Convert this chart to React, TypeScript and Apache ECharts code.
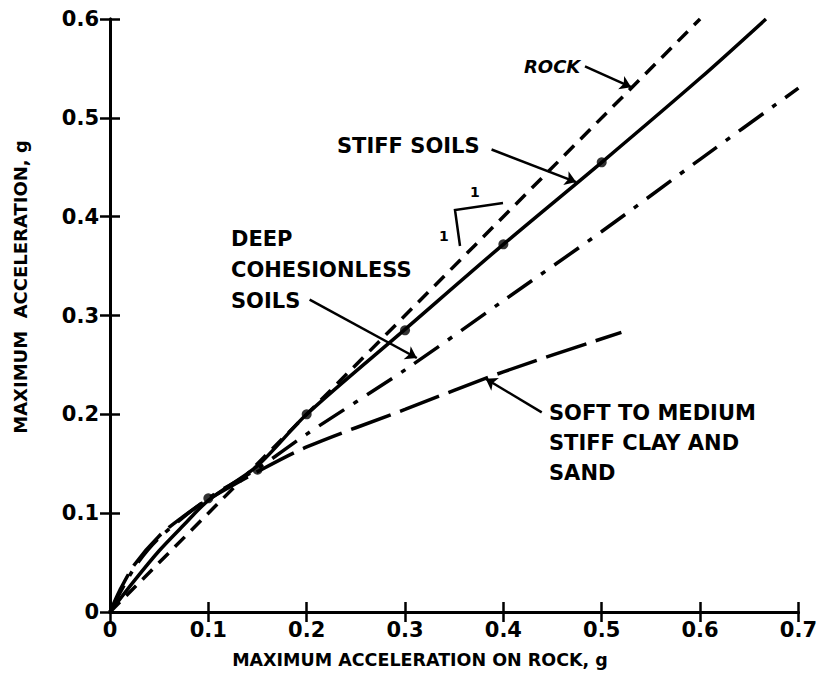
import React, { useEffect, useRef } from "react";
import * as echarts from "echarts";

const xTicks = [0, 0.1, 0.2, 0.3, 0.4, 0.5, 0.6, 0.7];
const yTicks = [0, 0.1, 0.2, 0.3, 0.4, 0.5, 0.6];

const rockX = [0, 0.6];
const rockY = [0, 0.6];

const stiffX = [0, 0.025, 0.05, 0.075, 0.1, 0.15, 0.2, 0.3, 0.4, 0.5, 0.6, 0.667];
const stiffY = [0, 0.032, 0.062, 0.088, 0.113, 0.148, 0.2, 0.286, 0.372, 0.455, 0.54, 0.6];

const stiffDotX = [0.1, 0.15, 0.2, 0.3, 0.4, 0.5];
const stiffDotY = [0.115, 0.144, 0.2, 0.285, 0.372, 0.455];

const deepX = [0, 0.025, 0.05, 0.1, 0.15, 0.2, 0.3, 0.4, 0.5, 0.6, 0.7];
const deepY = [0, 0.045, 0.075, 0.115, 0.145, 0.18, 0.245, 0.315, 0.385, 0.458, 0.53];

const softX = [0, 0.01, 0.025, 0.05, 0.075, 0.1, 0.15, 0.2, 0.3, 0.4, 0.52];
const softY = [0, 0.022, 0.048, 0.077, 0.097, 0.114, 0.142, 0.167, 0.205, 0.243, 0.283];

const FONT = "'DejaVu Sans', 'Liberation Sans', sans-serif";

const zip = (xs: number[], ys: number[]) => xs.map((x, i) => [x, ys[i]]);
const fmt = (v: number) => (v === 0 ? "0" : v.toFixed(1));

export default function App() {
  const ref = useRef<HTMLDivElement>(null);
  useEffect(() => {
    document.body.style.margin = "0";
    if (!ref.current) return;
    const chart = echarts.init(ref.current, null, { renderer: "svg" });
    const axisCommon = {
      type: "value" as const,
      interval: 0.1,
      axisLine: { show: true, lineStyle: { color: "#000", width: 3 } },
      axisTick: { show: true, inside: true, length: 10, lineStyle: { color: "#000", width: 2.5 } },
      splitLine: { show: false },
    };
    const labelStyle = { color: "#000", fontFamily: FONT, fontWeight: "bold" as const, fontSize: 21 };
    const arrow = (from: number[], to: number[]) => [
      { coord: from, symbol: "none" },
      { coord: to, symbol: "arrow" },
    ];
    chart.setOption({
      animation: false,
      backgroundColor: "#fff",
      grid: { left: 110, top: 19, right: 20, bottom: 70, containLabel: false },
      xAxis: [
        {
          ...axisCommon,
          min: xTicks[0],
          max: xTicks[xTicks.length - 1],
          position: "bottom",
          axisLabel: { ...labelStyle, margin: 7, formatter: fmt },
        },
        {
          ...axisCommon,
          min: xTicks[0],
          max: xTicks[xTicks.length - 1],
          position: "top",
          axisLabel: { show: false },
        },
      ],
      yAxis: [
        {
          ...axisCommon,
          min: yTicks[0],
          max: yTicks[yTicks.length - 1],
          position: "left",
          axisLabel: { ...labelStyle, margin: 11, formatter: fmt },
        },
        {
          ...axisCommon,
          min: yTicks[0],
          max: yTicks[yTicks.length - 1],
          position: "right",
          axisLabel: { show: false },
        },
      ],
      series: [
        {
          name: "Rock",
          type: "line",
          data: zip(rockX, rockY),
          showSymbol: false,
          lineStyle: { color: "#000", width: 3.5, type: [14, 9] },
          markLine: {
            silent: true,
            symbolSize: 11,
            lineStyle: { color: "#000", width: 2.5, type: "solid" },
            label: { show: false },
            data: [
              arrow([0.483, 0.552], [0.53, 0.531]),
              arrow([0.388, 0.468], [0.474, 0.435]),
              arrow([0.203, 0.316], [0.312, 0.257]),
              arrow([0.439, 0.202], [0.382, 0.236]),
            ],
          },
        },
        {
          name: "Stiff soils",
          type: "line",
          data: zip(stiffX, stiffY),
          smooth: 0.3,
          showSymbol: false,
          lineStyle: { color: "#000", width: 3.5 },
        },
        {
          name: "Stiff soils data",
          type: "scatter",
          data: zip(stiffDotX, stiffDotY),
          symbolSize: 10,
          itemStyle: { color: "#000" },
        },
        {
          name: "Deep cohesionless soils",
          type: "line",
          data: zip(deepX, deepY),
          smooth: 0.3,
          showSymbol: false,
          lineStyle: { color: "#000", width: 3.5, type: [30, 11, 5, 11] },
        },
        {
          name: "Soft to medium stiff clay and sand",
          type: "line",
          data: zip(softX, softY),
          smooth: 0.3,
          showSymbol: false,
          lineStyle: { color: "#000", width: 3.5, type: [42, 10] },
        },
      ],
      graphic: [
        {
          type: "text",
          x: 20,
          y: 287,
          rotation: Math.PI / 2,
          style: {
            text: "MAXIMUM  ACCELERATION, g",
            font: `bold 18px ${FONT}`,
            fill: "#000",
            align: "center",
            verticalAlign: "middle",
          },
        },
        {
          type: "text",
          x: 420,
          y: 660,
          style: {
            text: "MAXIMUM ACCELERATION ON ROCK, g",
            font: `bold 17.5px ${FONT}`,
            fill: "#000",
            align: "center",
            verticalAlign: "middle",
          },
        },
        {
          type: "text",
          x: 524,
          y: 66,
          style: { text: "ROCK", font: `bold italic 18px ${FONT}`, fill: "#000", verticalAlign: "middle" },
        },
        {
          type: "text",
          x: 337,
          y: 146,
          style: { text: "STIFF SOILS", font: `bold 21px ${FONT}`, fill: "#000", verticalAlign: "middle" },
        },
        {
          type: "text",
          x: 231,
          y: 223,
          style: {
            text: "DEEP\nCOHESIONLESS\nSOILS",
            font: `bold 21px ${FONT}`,
            lineHeight: 31,
            fill: "#000",
          },
        },
        {
          type: "text",
          x: 549,
          y: 398,
          style: {
            text: "SOFT TO MEDIUM\nSTIFF CLAY AND\nSAND",
            font: `bold 21px ${FONT}`,
            lineHeight: 30,
            fill: "#000",
          },
        },
        {
          type: "polyline",
          shape: { points: [[460, 246], [455, 210], [503, 203]] },
          style: { stroke: "#000", lineWidth: 2.5, fill: "none" },
        },
        {
          type: "text",
          x: 470,
          y: 192,
          style: { text: "1", font: `bold 14px ${FONT}`, fill: "#000", verticalAlign: "middle" },
        },
        {
          type: "text",
          x: 439,
          y: 236,
          style: { text: "1", font: `bold 14px ${FONT}`, fill: "#000", verticalAlign: "middle" },
        },
      ],
    });
    return () => chart.dispose();
  }, []);
  return <div ref={ref} style={{ width: 820, height: 682 }} />;
}
